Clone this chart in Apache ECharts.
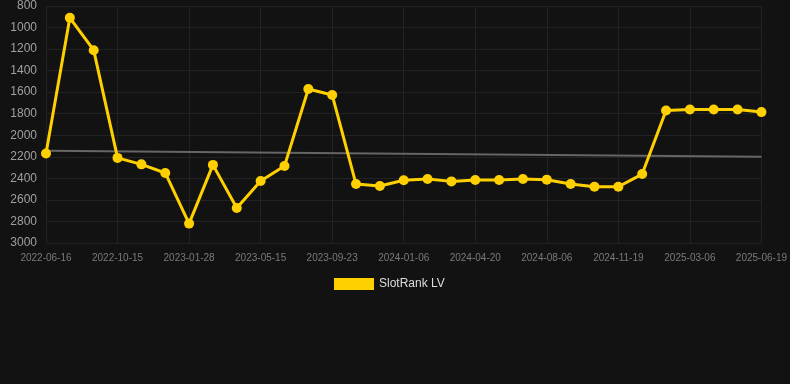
<!DOCTYPE html>
<html>
<head>
<meta charset="utf-8">
<script src="https://cdn.jsdelivr.net/npm/echarts@6/dist/echarts.min.js"></script>
<style>
html,body{margin:0;padding:0;background:#121212;}
#chart{width:790px;height:384px;}
</style>
</head>
<body>
<div id="chart"></div>
<script>
const categories = [
  '2022-06-16','2022-07-26','2022-09-04','2022-10-15','2022-11-19','2022-12-24',
  '2023-01-28','2023-03-04','2023-04-09','2023-05-15','2023-06-28','2023-08-10',
  '2023-09-23','2023-10-28','2023-12-02','2024-01-06','2024-02-10','2024-03-16',
  '2024-04-20','2024-05-26','2024-07-01','2024-08-06','2024-09-10','2024-10-15',
  '2024-11-19','2024-12-25','2025-01-29','2025-03-06','2025-04-10','2025-05-15',
  '2025-06-19'
];
const rankValues = [
  2170, 910, 1210, 2210, 2270, 2350,
  2820, 2275, 2675, 2425, 2286, 1571,
  1626, 2453, 2471, 2418, 2406, 2428,
  2415, 2415, 2406, 2412, 2453, 2478,
  2478, 2360, 1770, 1760, 1760, 1760,
  1785
];
// trend line end values, interior points left empty
const trendValues = [2143].concat(new Array(29).fill(null)).concat([2200]);
const yTicks = { min: 800, max: 3000, interval: 200 };

const chart = echarts.init(document.getElementById('chart'));
chart.setOption({
  backgroundColor: '#121212',
  animation: false,
  grid: { left: 46, right: 28, top: 6, bottom: 141 },
  legend: {
    data: ['SlotRank LV'],
    top: 273,
    left: 329,
    itemWidth: 40,
    itemHeight: 12,
    itemGap: 10,
    icon: 'rect',
    textStyle: { color: '#dddddd', fontSize: 12, fontFamily: 'Arial, Liberation Sans, sans-serif' }
  },
  xAxis: {
    type: 'category',
    data: categories,
    boundaryGap: false,
    axisLine: { show: false },
    axisTick: { show: false },
    axisLabel: { interval: 2, color: '#7a7a7a', fontSize: 10, margin: 10, fontFamily: 'Arial, Liberation Sans, sans-serif' },
    splitLine: { show: true, interval: 2, lineStyle: { color: '#222222', width: 1 } }
  },
  yAxis: {
    type: 'value',
    inverse: true,
    min: yTicks.min,
    max: yTicks.max,
    interval: yTicks.interval,
    axisLine: { show: false },
    axisTick: { show: false },
    axisLabel: { color: '#a0a0a0', fontSize: 12, margin: 9, formatter: v => String(v), fontFamily: 'Arial, Liberation Sans, sans-serif' },
    splitLine: { lineStyle: { color: '#222222', width: 1 } }
  },
  series: [
    {
      name: 'Trend',
      type: 'line',
      data: trendValues,
      connectNulls: true,
      symbol: 'none',
      lineStyle: { color: '#666666', width: 2 },
      z: 1,
      silent: true
    },
    {
      name: 'SlotRank LV',
      type: 'line',
      data: rankValues,
      symbol: 'circle',
      symbolSize: 10,
      itemStyle: { color: '#FFD000' },
      lineStyle: { color: '#FFD000', width: 3 },
      z: 3
    }
  ]
});
</script>
</body>
</html>
